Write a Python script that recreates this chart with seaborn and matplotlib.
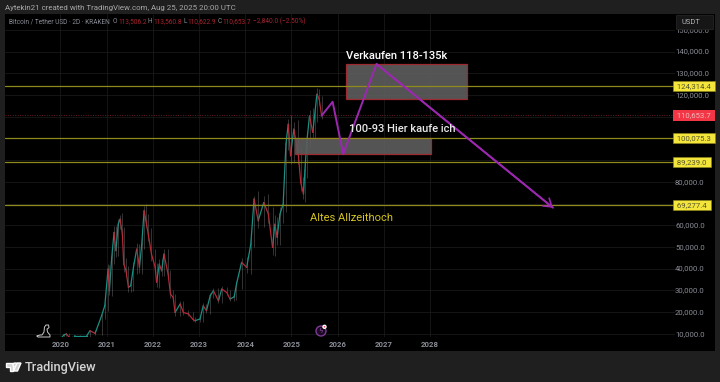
import numpy as np
import pandas as pd
import matplotlib
matplotlib.use('Agg')
import matplotlib.pyplot as plt
from matplotlib.patches import Rectangle, Ellipse, Polygon, FancyBboxPatch
import seaborn as sns

years = [2019.95, 2020.03, 2020.08, 2020.13, 2020.19, 2020.25, 2020.31, 2020.42, 2020.57, 2020.64, 2020.75, 2020.89,
         2020.96, 2021.03, 2021.06, 2021.11, 2021.16, 2021.20, 2021.25, 2021.29, 2021.34, 2021.37, 2021.42, 2021.47,
         2021.52, 2021.58, 2021.65, 2021.71, 2021.76, 2021.81, 2021.85, 2021.90, 2021.97, 2022.05, 2022.08, 2022.14,
         2022.19, 2022.24, 2022.33, 2022.38, 2022.44, 2022.48, 2022.59, 2022.66, 2022.77, 2022.86, 2022.91, 2023.02,
         2023.09, 2023.16, 2023.24, 2023.31, 2023.42, 2023.49, 2023.60, 2023.67, 2023.76, 2023.81, 2023.92, 2024.03,
         2024.12, 2024.19, 2024.28, 2024.40, 2024.50, 2024.59, 2024.64, 2024.69, 2024.75, 2024.82, 2024.88, 2024.93,
         2024.98, 2025.05, 2025.15, 2025.20, 2025.26, 2025.29, 2025.33, 2025.39, 2025.46, 2025.50, 2025.55, 2025.60,
         2025.65]
closes = [7200, 8300, 9550, 9900, 8300, 5500, 9100, 9100, 9100, 11400, 10150, 18300,
          22900, 39800, 29800, 45200, 56700, 48300, 60500, 62800, 55900, 42100, 39000, 31400,
          32100, 40600, 49000, 40600, 51300, 66700, 62100, 55900, 46700, 40600, 33700, 42100,
          39000, 46700, 37500, 28300, 26700, 19800, 23700, 19800, 19100, 16800, 16000, 16800,
          22900, 20600, 27500, 29800, 25200, 30600, 29000, 26000, 27000, 32900, 42900, 40600,
          51300, 72100, 62100, 70500, 65100, 49800, 60500, 54400, 65100, 69700, 97400, 106600,
          92000, 104300, 92000, 79700, 74400, 85100, 98200, 110400, 102800, 110400, 120400, 118100,
          110653]
wicks = [300, 400, 500, 400, 500, 500, 300, 300, 400, 500, 500, 900,
         1500, 2500, 2000, 2500, 3000, 3000, 2500, 2000, 3000, 3500, 3000, 2000,
         2000, 2500, 3000, 2500, 3000, 2300, 3000, 3000, 3000, 2500, 2000, 2500,
         2500, 2500, 2500, 2000, 2000, 1500, 1500, 1200, 1000, 800, 700, 800,
         1200, 1000, 1300, 1200, 1100, 1200, 1000, 1000, 1000, 1500, 2200, 2500,
         3000, 1500, 3500, 3000, 4000, 3500, 4000, 3500, 3500, 4000, 3500, 2500,
         4000, 3500, 4000, 4000, 2500, 3500, 3500, 2500, 3500, 3000, 3000, 2500,
         1500]

path_years = [2025.65, 2025.89, 2026.12, 2026.84, 2030.66]
path_prices = [110450, 116900, 92800, 134300, 68060]

level_prices = [124314.4, 100075.3, 89239.0, 69277.4]
level_labels = ['124,314.4', '100,075.3', '89,239.0', '69,277.4']
last_price = 110653.7
last_label = '110,653.7'

sell_zone = [2026.18, 2028.80, 118000, 134500]
buy_zone = [2025.08, 2028.01, 92700, 100000]

tick_years = [2020, 2021, 2022, 2023, 2024, 2025, 2026, 2027, 2028]
grid_prices = [10000, 20000, 30000, 40000, 50000, 60000, 70000, 80000, 90000, 100000,
               110000, 120000, 130000, 140000, 150000]
shown_prices = [10000, 20000, 30000, 40000, 50000, 60000, 80000, 120000, 130000, 140000, 150000]

W, H = 720, 382
UP = '#1a8f82'
DOWN = '#b32a38'
YELLOW = '#8f8a1c'
GREY = '#8a8d96'
PURPLE = '#9c27b0'


def fx(px):
    return px / W


def fy(py):
    return 1 - py / H


sns.set_theme(style='dark')
plt.rcParams['font.family'] = ['Roboto', 'DejaVu Sans']

fig = plt.figure(figsize=(7.2, 3.82), dpi=100, facecolor='#1f1f1f')
fig.add_artist(Rectangle((fx(5), fy(351)), fx(710), 337 / H, transform=fig.transFigure,
                         facecolor='black', edgecolor='none', zorder=-5))

ax = fig.add_axes([fx(5), fy(337), fx(670), 323 / H], facecolor='black')
ax.set_xlim(2018.80, 2033.30)
ax.set_ylim(8500, 157350)
ax.set_xticks(tick_years)
ax.set_yticks(grid_prices)
ax.set_xticklabels([str(y) for y in tick_years], fontsize=5.6, color=GREY, fontweight='bold')
ax.set_yticklabels([])
ax.tick_params(axis='both', length=0, pad=3)
ax.grid(True, color='#191919', linewidth=0.6)
for s in ax.spines.values():
    s.set_visible(False)

# candles, far too dense to see one by one so each step is a coloured stroke
rows = []
for i in range(1, len(years)):
    d = 'up' if closes[i] >= closes[i - 1] else 'down'
    rows.append({'x': years[i - 1], 'y': closes[i - 1], 'seg': i, 'dir': d})
    rows.append({'x': years[i], 'y': closes[i], 'seg': i, 'dir': d})
df = pd.DataFrame(rows)

hi = [max(c, closes[max(i - 1, 0)]) + w for i, (c, w) in enumerate(zip(closes, wicks))]
lo = [min(c, closes[max(i - 1, 0)]) - w for i, (c, w) in enumerate(zip(closes, wicks))]
ax.vlines(years, lo, hi, color='#b9b3b3', linewidth=0.5, alpha=0.4, zorder=2)
sns.lineplot(data=df, x='x', y='y', hue='dir', units='seg', estimator=None, ax=ax,
             palette={'up': UP, 'down': DOWN}, linewidth=0.9, legend=False, zorder=3)
ax.set_xlabel('')
ax.set_ylabel('')

for name, zone in [('sell', sell_zone), ('buy', buy_zone)]:
    ax.add_patch(Rectangle((zone[0], zone[2]), zone[1] - zone[0], zone[3] - zone[2],
                           facecolor='#5c5c5c', edgecolor='#a82a30', linewidth=0.9, alpha=0.92, zorder=4))

for p in level_prices:
    ax.axhline(p, color=YELLOW, linewidth=0.9, zorder=5)
ax.axhline(last_price, color='#6e1c26', linewidth=0.7, linestyle=(0, (1, 1.5)), zorder=1)

sns.lineplot(x=path_years, y=path_prices, ax=ax, color=PURPLE, linewidth=1.4, sort=False,
             estimator=None, zorder=6)
ax.annotate('', xy=(path_years[-1], path_prices[-1]), xytext=(path_years[-2], path_prices[-2]),
            arrowprops=dict(arrowstyle='->,head_length=0.45,head_width=0.3', color=PURPLE, lw=1.2,
                            shrinkA=0, shrinkB=0), zorder=6)

ax.text(2026.19, 138200, 'Verkaufen 118-135k', color='white', fontsize=8, fontweight='medium', va='center', zorder=7)
ax.text(2026.24, 104200, '100-93 Hier kaufe ich', color='#e8e8e8', fontsize=8, fontweight='medium', va='center', zorder=7)
ax.text(2025.40, 63200, 'Altes Allzeithoch', color='#d6c51e', fontsize=8, va='center', zorder=7)

# price scale
for p in shown_prices:
    ax.text(1.0, p, f'{p:,.1f}', transform=ax.get_yaxis_transform(), color=GREY, fontsize=5.6,
            va='center', ha='left', clip_on=False)
for i, (p, t) in enumerate(zip(level_prices, level_labels)):
    ax.text(1.0, p, ' ' + t + ' ', transform=ax.get_yaxis_transform(), color='#55552a', fontsize=5.6,
            va='center', ha='left', clip_on=False, zorder=8,
            bbox=dict(boxstyle='square,pad=0.28', facecolor='#f4e53c', edgecolor='#8f8a1c', linewidth=0.4))
ax.text(1.0, last_price, ' ' + last_label + ' ', transform=ax.get_yaxis_transform(), color='#f2b8bc',
        fontsize=5.6, va='center', ha='left', clip_on=False, zorder=8,
        bbox=dict(boxstyle='square,pad=0.28', facecolor='#f23645', edgecolor='none'))

# USDT button sits over the clipped top label
fig.add_artist(FancyBboxPatch((fx(678), fy(29)), fx(34), 13 / H, boxstyle='round,pad=0.002',
                              transform=fig.transFigure, facecolor='#161616', edgecolor='#2a2a2a',
                              linewidth=0.5, zorder=9))
fig.text(fx(681), fy(22), 'USDT', color='#b0b3ba', fontsize=5.4, va='center', zorder=10)

# header and ohlc line
fig.text(fx(5), fy(8), 'Aytekin21 created with TradingView.com, Aug 25, 2025 20:00 UTC', color='#a8a8a8',
         fontsize=5.7, va='center')
fig.text(fx(9), fy(21.5), 'Bitcoin / Tether USD · 2D · KRAKEN', color='#8a8d96', fontsize=4.7, va='center')
for px, s, c in [(113, 'O', '#8a8d96'), (118, '113,506.2', '#a8242f'), (148, 'H', '#8a8d96'),
                 (153, '113,560.8', '#a8242f'), (183.5, 'L', '#8a8d96'), (187.5, '110,622.9', '#a8242f'),
                 (218, 'C', '#8a8d96'), (222.5, '110,653.7', '#a8242f'),
                 (253, '−2,840.0 (−2.50%)', '#a8242f')]:
    fig.text(fx(px), fy(21.5), s, color=c, fontsize=4.7, va='center')

# footer logo
tv = '#d4d4d4'
fig.add_artist(Polygon([(fx(6), fy(363)), (fx(13), fy(363)), (fx(13), fy(371)), (fx(9.5), fy(371)),
                        (fx(9.5), fy(366.5)), (fx(6), fy(366.5))], transform=fig.transFigure, facecolor=tv))
fig.add_artist(Ellipse((fx(15), fy(365)), 4 / W, 4 / H, transform=fig.transFigure, facecolor=tv))
fig.add_artist(Polygon([(fx(17), fy(363)), (fx(21), fy(363)), (fx(17.5), fy(371)), (fx(13.5), fy(371))],
                       transform=fig.transFigure, facecolor=tv))
fig.text(fx(24.5), fy(367), 'TradingView', color=tv, fontsize=9.2, fontweight='medium', va='center')

# dino mark and the purple event badge
dino_x = [37, 40, 42, 44, 44.5, 46, 48.5, 49, 48, 47, 47.5, 50, 50, 38, 37]
dino_y = [336, 335, 335, 332, 327, 325, 325, 327.5, 328.5, 329, 332, 335, 337, 337, 336]
fig.add_artist(plt.Line2D([fx(v) for v in dino_x], [fy(v) for v in dino_y], color='#c8c8c8',
                          linewidth=0.7, transform=fig.transFigure))
fig.add_artist(Ellipse((fx(321), fy(331)), 10 / W, 10 / H, transform=fig.transFigure, facecolor='#1a0a20',
                       edgecolor='#7d3a94', linewidth=1.0, zorder=6))
fig.text(fx(321), fy(331), 'ϟ', color='#8d4aa6', fontsize=5, ha='center', va='center', zorder=7,
         family='DejaVu Sans')
fig.add_artist(Ellipse((fx(324.5), fy(326.8)), 3 / W, 3 / H, transform=fig.transFigure, facecolor='#f23645', zorder=8))

fig.savefig('out.png', dpi=100, facecolor=fig.get_facecolor())
